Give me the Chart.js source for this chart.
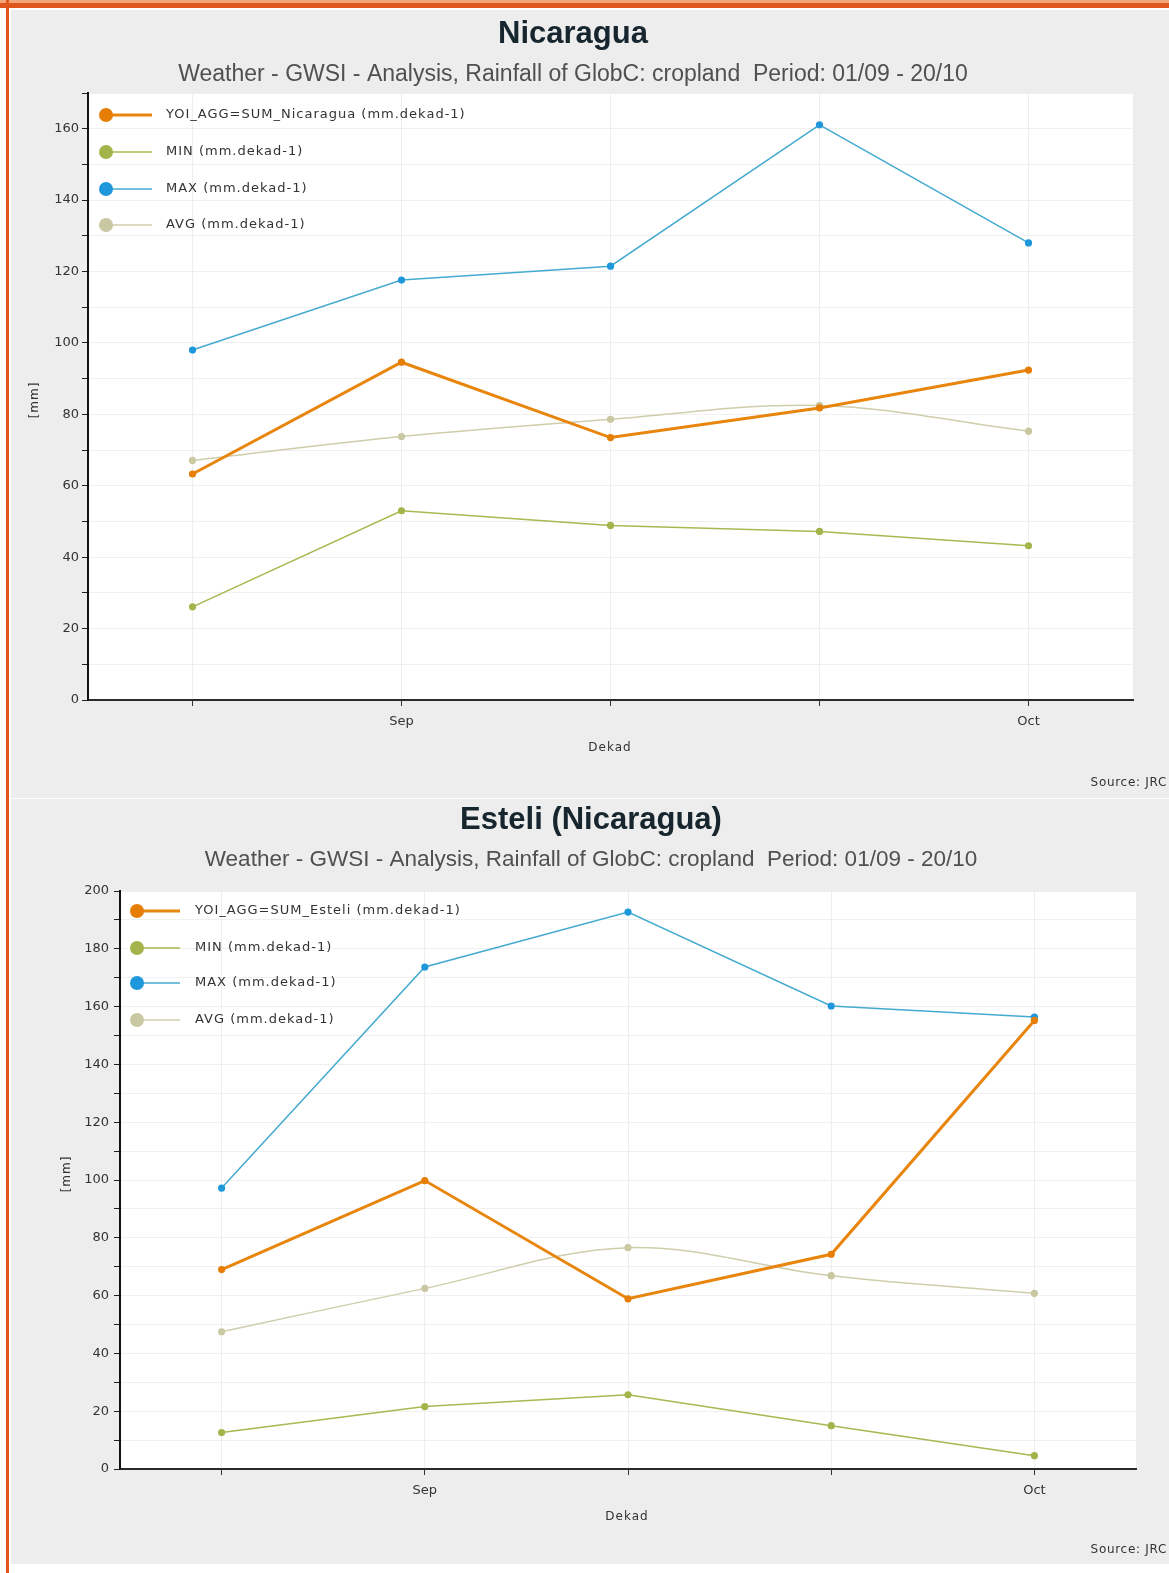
<!DOCTYPE html>
<html>
<head>
<meta charset="utf-8">
<script src="https://cdn.jsdelivr.net/npm/chart.js@4.4.1/dist/chart.umd.min.js"></script>
<style>
html, body { margin: 0; padding: 0; background: #fff; }
body { width: 1169px; height: 1573px; position: relative; overflow: hidden; }
#topbar { position: absolute; left: 0; top: 0; width: 1169px; height: 8px; background: #e0561c; border-top: 3px solid #f2a679; box-sizing: border-box; }
#leftbar { position: absolute; left: 6px; top: 0; width: 3px; height: 1573px; background: #e0561c; }
.panel { position: absolute; left: 11px; width: 1158px; background: #ededed; }
#p1 { top: 10px; height: 788px; }
#p2 { top: 799px; height: 765px; }
canvas { display: block; }
</style>
</head>
<body>
<div id="topbar"></div>
<div id="leftbar"></div>
<div class="panel" id="p1"><canvas id="chartNic" width="1158" height="787"></canvas></div>
<div class="panel" id="p2"><canvas id="chartEst" width="1158" height="765"></canvas></div>

<script>
// DATA
const dekadLabels = ["", "Sep", "", "", "Oct"];

const nicYoi = [63.3, 94.6, 73.5, 81.8, 92.4];
const nicMin = [26.1, 53.0, 48.9, 47.2, 43.2];
const nicMax = [98.0, 117.6, 121.5, 161.1, 128.0];
const nicAvg = [67.1, 73.8, 78.6, 82.5, 75.3];

const estYoi = [69.0, 99.8, 58.9, 74.3, 155.2];
const estMin = [12.6, 21.6, 25.7, 15.0, 4.6];
const estMax = [97.2, 173.7, 192.7, 160.2, 156.4];
const estAvg = [47.5, 62.5, 76.6, 66.9, 60.8];

const nicYMax = 170;
const estYMax = 200;
const yStep = 10;
const yLabelStep = 20;

const FONT = '"DejaVu Sans", sans-serif';
const lineColors = { yoi: "#e8850c", min: "#a9b850", max: "#45aad0", avg: "#cfcdaa" };
const dotColors = { yoi: "#e67e05", min: "#a4b44a", max: "#1f97db", avg: "#c9c8a2" };

function lineSet(label, data, key, width, tension) {
  return {
    label,
    data,
    borderColor: lineColors[key],
    backgroundColor: dotColors[key],
    pointBackgroundColor: dotColors[key],
    pointBorderWidth: 0,
    pointRadius: 3.6,
    borderWidth: width,
    tension: tension || 0,
    fill: false,
    legendDot: dotColors[key]
  };
}

// titles, axis names, legend and source text
function makeDecor(s) {
  return {
    id: "decor",
    beforeDraw(chart) {
      const { ctx, chartArea: a } = chart;
      ctx.save();
      ctx.fillStyle = "#fff";
      ctx.fillRect(a.left, a.top, a.right - a.left, a.bottom - a.top);
      ctx.restore();
    },
    afterDraw(chart) {
      const ctx = chart.ctx;
      ctx.save();
      ctx.textAlign = "center";
      ctx.textBaseline = "middle";
      ctx.fillStyle = "#17262e";
      ctx.font = 'bold 31px "Liberation Sans", Arial, sans-serif';
      ctx.fillText(s.title, s.titleX, s.titleY);
      ctx.fillStyle = "#505050";
      ctx.font = s.subSize + 'px "Liberation Sans", Arial, sans-serif';
      ctx.fillText(s.subtitle, s.titleX, s.subY);

      ctx.fillStyle = "#333";
      ctx.letterSpacing = "1px";
      ctx.font = "12px " + FONT;
      ctx.fillText("Dekad", s.dekadX, s.dekadY);
      ctx.save();
      ctx.translate(s.mmX, s.mmY);
      ctx.rotate(-Math.PI / 2);
      ctx.fillText("[mm]", 0, 0);
      ctx.restore();

      ctx.textAlign = "right";
      ctx.letterSpacing = "0.7px";
      ctx.fillText("Source: JRC", 1156, s.sourceY);

      // legend inside plot
      ctx.textAlign = "left";
      ctx.letterSpacing = "1px";
      ctx.font = "13px " + FONT;
      chart.data.datasets.forEach((ds, i) => {
        const y = s.legendY[i];
        ctx.strokeStyle = ds.borderColor;
        ctx.lineWidth = ds.borderWidth;
        ctx.beginPath();
        ctx.moveTo(s.legendX, y);
        ctx.lineTo(s.legendLineEnd, y);
        ctx.stroke();
        ctx.fillStyle = ds.legendDot;
        ctx.beginPath();
        ctx.arc(s.legendX, y, 7, 0, Math.PI * 2);
        ctx.fill();
        ctx.fillStyle = "#333";
        ctx.fillText(ds.label, s.legendTextX, y);
      });
      ctx.restore();
    }
  };
}

function makeChart(id, region, yoi, mn, mx, avg, yMax, layout, decor) {
  return new Chart(document.getElementById(id), {
    type: "line",
    data: {
      labels: dekadLabels,
      datasets: [
        lineSet("YOI_AGG=SUM_" + region + " (mm.dekad-1)", yoi, "yoi", 3),
        lineSet("MIN (mm.dekad-1)", mn, "min", 1.5),
        lineSet("MAX (mm.dekad-1)", mx, "max", 1.5),
        lineSet("AVG (mm.dekad-1)", avg, "avg", 1.5, 0.35)
      ]
    },
    options: {
      responsive: false,
      animation: false,
      layout: { padding: layout.padding },
      plugins: {
        legend: { display: false },
        title: { display: false },
        tooltip: { enabled: false }
      },
      scales: {
        x: {
          offset: true,
          afterFit: sc => { sc.height = 40; },
          grid: { color: "#eeeeee", tickColor: "#333", tickLength: 6, drawTicks: true },
          border: { color: "#2a2a2a", width: 2 },
          ticks: {
            autoSkip: false,
            maxRotation: 0,
            padding: 8,
            color: "#333",
            font: { family: FONT, size: 13 }
          }
        },
        y: {
          min: 0,
          max: yMax,
          afterFit: sc => { sc.width = layout.yWidth; },
          grid: { color: "#f0f0f0", tickColor: "#222", tickLength: 6 },
          border: { color: "#111", width: 2 },
          ticks: {
            stepSize: yStep,
            padding: layout.tickPad,
            color: "#333",
            font: { family: FONT, size: 13 },
            callback: v => (v % yLabelStep === 0 ? v : "")
          }
        }
      }
    },
    plugins: [makeDecor(decor)]
  });
}

const subtitleText = "Weather - GWSI - Analysis, Rainfall of GlobC: cropland  Period: 01/09 - 20/10";

makeChart("chartNic", "Nicaragua", nicYoi, nicMin, nicMax, nicAvg, nicYMax,
  { padding: { left: 0, right: 36, top: 83, bottom: 57 }, yWidth: 77, tickPad: 3 },
  {
    title: "Nicaragua", subtitle: subtitleText, subSize: 23, titleX: 562, titleY: 24, subY: 65,
    mmX: 24, mmY: 390, dekadX: 599, dekadY: 738, sourceY: 773,
    legendX: 95, legendY: [105, 142, 179, 215], legendLineEnd: 141, legendTextX: 155
  });

makeChart("chartEst", "Esteli", estYoi, estMin, estMax, estAvg, estYMax,
  { padding: { left: 0, right: 33, top: 92, bottom: 55 }, yWidth: 109, tickPad: 5 },
  {
    title: "Esteli (Nicaragua)", subtitle: subtitleText, subSize: 22.5, titleX: 580, titleY: 21, subY: 61,
    mmX: 56, mmY: 375, dekadX: 616, dekadY: 718, sourceY: 751,
    legendX: 126, legendY: [112, 149, 184, 221], legendLineEnd: 169, legendTextX: 184
  });
</script>
</body>
</html>
